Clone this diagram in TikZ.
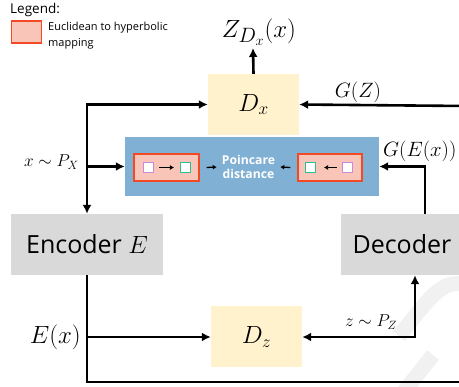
\documentclass[tikz,border=0pt]{standalone}
\usepackage{fontspec}
\setsansfont{Open Sans}
\usetikzlibrary{arrows.meta,calc}
\definecolor{dfill}{HTML}{FFF2CC}
\definecolor{gfill}{HTML}{D9D9D9}
\definecolor{bfill}{HTML}{80B0D4}
\definecolor{pfill}{HTML}{F9C5B8}
\definecolor{pdraw}{HTML}{F24A24}
\definecolor{lilac}{HTML}{CC88DD}
\definecolor{teal}{HTML}{2EBF90}
\definecolor{wmark}{HTML}{F1F1F1}
\tikzset{
  disc/.style={fill=dfill,minimum width=91pt,minimum height=61pt,inner sep=0pt},
  coder/.style={fill=gfill,minimum height=61pt,inner sep=0pt,font=\sffamily\fontsize{25}{28}\selectfont},
  mapbox/.style={fill=pfill,draw=pdraw,line width=1.1pt,minimum width=64pt,minimum height=27pt,inner sep=0pt},
  sq/.style={fill=white,line width=1.1pt,minimum size=10pt,inner sep=0pt},
  arr/.style={line width=2.6pt,-{Latex[length=9pt,width=9pt]}},
  arrb/.style={line width=2.6pt,{Latex[length=9pt,width=9pt]}-{Latex[length=9pt,width=9pt]}},
  ln/.style={line width=2.6pt},
  sarr/.style={line width=1.3pt,-{Latex[length=4pt,width=5pt]}},
  lbl/.style={inner sep=0pt},
}
\begin{document}
\begin{tikzpicture}[x=1pt,y=-1pt]
\useasboundingbox (0,0) rectangle (459,387);
\fill[white] (0,0) rectangle (459,387);
% watermark fragment
\draw[wmark,line width=15pt] (465,284) .. controls (440,280) and (430,298) .. (399,336);
\draw[wmark,line width=15pt] (433,355) -- (403,393);

% legend
\node[lbl,anchor=base west,font=\sffamily\fontsize{13.5}{15}\selectfont] (legt) at (10,14) {Legend:};
\node[mapbox,minimum width=30pt,minimum height=22pt] (legb) at (26.5,32) {};
\node[lbl,anchor=west,align=left,font=\sffamily\fontsize{11}{16}\selectfont] (legx) at (48,36) {Euclidean to hyperbolic\\mapping};

% main nodes
\node[disc] (dx) at (253.5,104.5) {\fontsize{27}{30}\selectfont $D_x$};
\node[disc] (dz) at (256.5,337) {\fontsize{27}{30}\selectfont $D_z$};
\node[coder,minimum width=152pt] (enc) at (87,244.5) {Encoder $E$};
\node[coder,minimum width=122pt] (dec) at (402,244.5) {Decoder};

\node[fill=bfill,minimum width=254pt,minimum height=59pt,inner sep=0pt] (blue) at (252,166.5) {};
\node[mapbox,minimum width=65pt] (pl) at (166.5,167.5) {};
\node[mapbox] (pr) at (330,167.5) {};
\node[sq,draw=lilac] (p1) at (148.5,167.5) {};
\node[sq,draw=teal] (g1) at (185.5,167.5) {};
\node[sq,draw=teal] (g2) at (310.5,167.5) {};
\node[sq,draw=lilac] (p2) at (347.5,167.5) {};
\node[lbl,text=white,align=center,font=\sffamily\bfseries\fontsize{12.2}{14.5}\selectfont] (pd) at (248.5,167) {Poincare\\distance};

\draw[sarr] ([xshift=5pt]p1.east) -- ([xshift=-6pt]g1.west);
\draw[sarr] ([xshift=-5pt]p2.west) -- ([xshift=8pt]g2.east);
\draw[sarr] ([xshift=7pt]pl.east) -- ([xshift=-5pt]pd.west);
\draw[sarr] ([xshift=-7pt]pr.west) -- ([xshift=5pt]pd.east);

% labels
\node[lbl,anchor=south,font=\fontsize{31}{33}\selectfont] (zdx) at (259,46) {$Z_{D_x}(x)$};
\node[lbl,font=\fontsize{20}{22}\selectfont] (gz) at (358,92) {$G(Z)$};
\node[lbl,anchor=west,font=\fontsize{20}{22}\selectfont] (gex) at (383,151) {$G(E(x))$};
\node[lbl,anchor=east,font=\fontsize{18}{20}\selectfont] (xp) at (79,162) {$x\sim P_X$};
\node[lbl,anchor=east,font=\fontsize{26}{28}\selectfont] (ex) at (81,337) {$E(x)$};
\node[lbl,font=\fontsize{17}{19}\selectfont] (zp) at (371,322) {$z\sim P_Z$};
\coordinate (gzin) at (465,106);
\coordinate (botr) at (465,382);
\coordinate (zdxb) at (253,48);

% connectors
\draw[arr] (dx.north) -- (zdxb);
\draw[arrb] (dx.west) -| (enc.north);
\draw[arr] (enc.north |- blue.west) -- (blue.west);
\draw[arr] (gzin) -- (dx.east);
\draw[arr] ([xshift=23pt]dec.north) |- (blue.east);
\draw[ln] (enc.south) |- (botr);
\draw[arr] (enc.south |- dz.west) -- (dz.west);
\draw[arrb] (dz.east) -| ([xshift=13pt]dec.south);
\end{tikzpicture}
\end{document}
